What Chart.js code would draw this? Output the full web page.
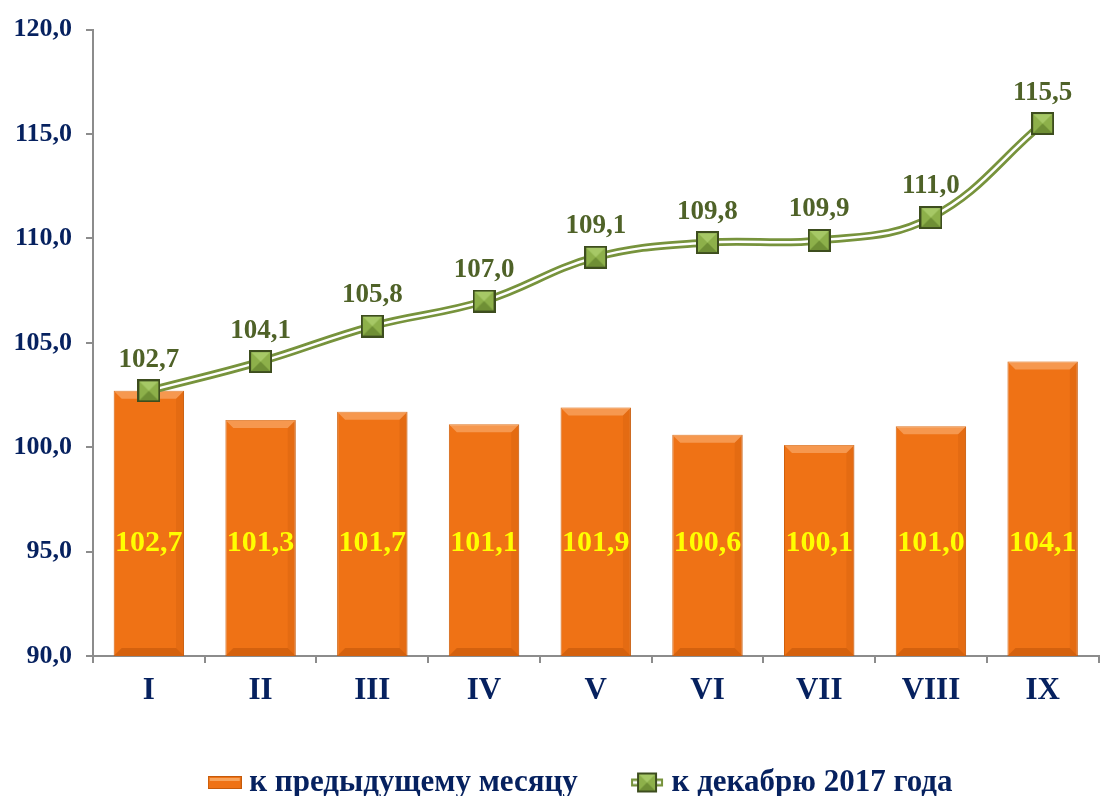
<!DOCTYPE html>
<html>
<head>
<meta charset="utf-8">
<script src="https://cdn.jsdelivr.net/npm/chart.js@4.4.1/dist/chart.umd.min.js"></script>
<style>
  html, body { margin: 0; padding: 0; background: #fff; }
  #wrap { width: 1113px; height: 796px; }
</style>
</head>
<body>
<div id="wrap"><canvas id="chart" width="1113" height="796"></canvas></div>
<script>
// months of 2018
const months = ['I', 'II', 'III', 'IV', 'V', 'VI', 'VII', 'VIII', 'IX'];
// к предыдущему месяцу
const prevMonth = [102.7, 101.3, 101.7, 101.1, 101.9, 100.6, 100.1, 101.0, 104.1];
// к декабрю 2017 года
const toDec2017 = [102.7, 104.1, 105.8, 107.0, 109.1, 109.8, 109.9, 111.0, 115.5];
const seriesNames = ['к предыдущему месяцу', 'к декабрю 2017 года'];

const navy = '#06215f';
const olive = '#4f6228';
const green = '#77933c';
const orange = '#ef7215';
const font = 'Liberation Serif';

const fmt = v => v.toFixed(1).replace('.', ',');

// square marker with a little bevel
function makeMarker(size) {
    const c = document.createElement('canvas');
    c.width = size; c.height = size;
    const g = c.getContext('2d');
    g.fillStyle = '#8db04a';
    g.fillRect(0, 0, size, size);
    g.fillStyle = '#6f8f35';
    g.beginPath(); g.moveTo(0, size); g.lineTo(size / 2, size / 2); g.lineTo(size, size); g.fill();
    g.fillStyle = '#a6c866';
    g.beginPath(); g.moveTo(0, 0); g.lineTo(size / 2, size / 2); g.lineTo(size, 0); g.fill();
    g.strokeStyle = '#3d4d1e';
    g.lineWidth = 2;
    g.strokeRect(1, 1, size - 2, size - 2);
    return c;
}
const marker = makeMarker(23);

// legend icons
function barIcon() {
    const c = document.createElement('canvas');
    c.width = 34; c.height = 13;
    const g = c.getContext('2d');
    g.fillStyle = orange; g.fillRect(0, 0, 34, 13);
    g.fillStyle = '#f7a45c'; g.fillRect(2, 2, 30, 3);
    g.strokeStyle = '#c55a0a'; g.strokeRect(0.5, 0.5, 33, 12);
    return c;
}
function lineIcon() {
    const c = document.createElement('canvas');
    c.width = 36; c.height = 22;
    const g = c.getContext('2d');
    g.strokeStyle = green; g.lineWidth = 8;
    g.beginPath(); g.moveTo(2, 11); g.lineTo(34, 11); g.stroke();
    g.strokeStyle = '#fff'; g.lineWidth = 3;
    g.beginPath(); g.moveTo(4, 11); g.lineTo(32, 11); g.stroke();
    g.drawImage(makeMarker(20), 8, 1);
    return c;
}

// bevel shading on the bars
const bevelPlugin = {
    id: 'bevel',
    afterDatasetDraw(chart, args) {
        if (args.index !== 0) return;
        const ctx = chart.ctx;
        const b = chart.chartArea.bottom;
        ctx.save();
        args.meta.data.forEach(bar => {
            const l = bar.x - bar.width / 2, r = bar.x + bar.width / 2;
            const t = bar.y, d = 8;
            ctx.fillStyle = 'rgba(255,200,150,0.45)';
            ctx.beginPath(); ctx.moveTo(l, t); ctx.lineTo(r, t); ctx.lineTo(r - d, t + d); ctx.lineTo(l + d, t + d); ctx.fill();
            ctx.fillStyle = 'rgba(150,60,0,0.3)';
            ctx.beginPath(); ctx.moveTo(l, b); ctx.lineTo(r, b); ctx.lineTo(r - d, b - d); ctx.lineTo(l + d, b - d); ctx.fill();
            ctx.fillStyle = 'rgba(150,60,0,0.12)';
            ctx.beginPath(); ctx.moveTo(r, t); ctx.lineTo(r, b); ctx.lineTo(r - d, b - d); ctx.lineTo(r - d, t + d); ctx.fill();
        });
        ctx.restore();
    }
};

const labelPlugin = {
    id: 'valueLabels',
    afterDatasetsDraw(chart) {
        const ctx = chart.ctx;
        const y = chart.scales.y;
        ctx.save();
        ctx.textAlign = 'center';
        ctx.textBaseline = 'middle';
        ctx.font = 'bold 30px "' + font + '"';
        chart.getDatasetMeta(0).data.forEach((bar, i) => {
            ctx.fillStyle = '#ffff00';
            ctx.fillText(fmt(prevMonth[i]), bar.x, y.getPixelForValue(95.4));
        });
        ctx.font = 'bold 27px "' + font + '"';
        chart.getDatasetMeta(2).data.forEach((pt, i) => {
            ctx.fillStyle = olive;
            ctx.fillText(fmt(toDec2017[i]), pt.x, pt.y - 31);
        });
        ctx.restore();
    }
};

new Chart(document.getElementById('chart'), {
    type: 'bar',
    data: {
        labels: months,
        datasets: [{
            label: seriesNames[0],
            data: prevMonth,
            backgroundColor: orange,
            borderColor: '#d0600c',
            borderWidth: 1,
            categoryPercentage: 1,
            barPercentage: 0.63,
            order: 3
        }, {
            type: 'line',
            label: seriesNames[1],
            data: toDec2017,
            borderColor: green,
            borderWidth: 8,
            tension: 0.4,
            pointRadius: 0,
            order: 2
        }, {
            type: 'line',
            label: 'inner',
            data: toDec2017,
            borderColor: '#ffffff',
            borderWidth: 2.5,
            tension: 0.4,
            pointStyle: marker,
            pointRadius: 12,
            order: 1
        }]
    },
    options: {
        responsive: false,
        animation: false,
        layout: { padding: { top: 27, right: 5, left: 0, bottom: -12 } },
        scales: {
            x: {
                grid: { drawOnChartArea: false, color: '#8c8c8c', lineWidth: 2, tickLength: 7 },
                border: { color: '#8c8c8c', width: 2 },
                ticks: { color: navy, font: { family: font, size: 31, weight: 'bold' }, padding: 9 },
                afterFit(s) { s.height = 105; }
            },
            y: {
                min: 90,
                max: 120,
                grid: { drawOnChartArea: false, color: '#8c8c8c', lineWidth: 2, tickLength: 7 },
                border: { color: '#8c8c8c', width: 2 },
                ticks: {
                    stepSize: 5,
                    color: navy,
                    font: { family: font, size: 26, weight: 'bold' },
                    padding: 14,
                    callback: v => fmt(v)
                },
                afterFit(s) { s.width = 93; }
            }
        },
        plugins: {
            tooltip: { enabled: false },
            legend: {
                position: 'bottom',
                fullSize: false,
                labels: {
                    color: navy,
                    font: { family: font, size: 31, weight: 'bold' },
                    usePointStyle: true,
                    pointStyleWidth: 18,
                    padding: 6,
                    generateLabels(chart) {
                        return [
                            { text: seriesNames[0] + '       ', pointStyle: barIcon(), fontColor: navy, datasetIndex: 0, lineWidth: 0 },
                            { text: seriesNames[1] + '   ', pointStyle: lineIcon(), fontColor: navy, datasetIndex: 1, lineWidth: 0 }
                        ];
                    }
                }
            }
        }
    },
    plugins: [bevelPlugin, labelPlugin]
});
</script>
</body>
</html>
